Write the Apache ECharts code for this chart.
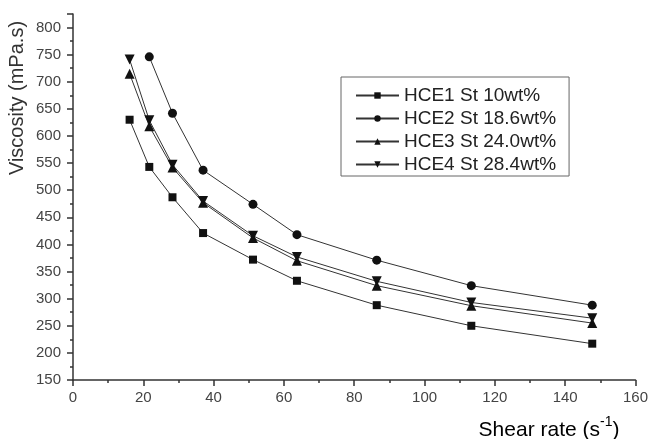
<!DOCTYPE html>
<html>
<head>
<meta charset="utf-8">
<script src="https://cdn.jsdelivr.net/npm/echarts@6/dist/echarts.min.js"></script>
<style>
  html, body { margin: 0; padding: 0; background: #fff; }
  #chart { width: 651px; height: 439px; }
</style>
</head>
<body>
<div id="chart"></div>
<script>
// shear rate, s^-1
const shearRate = [16.1, 21.7, 28.3, 37.0, 51.2, 63.7, 86.4, 113.3, 147.7]
const hce2Rate = [21.7, 28.3, 37.0, 51.2, 63.7, 86.4, 113.3, 147.7]

// viscosity, mPa.s
const hce1 = [630, 543, 487, 421, 372, 333, 288, 250, 217]
const hce2 = [746, 642, 537, 474, 418, 371, 324, 288]
const hce3 = [715, 618, 542, 477, 412, 370, 324, 287, 255]
const hce4 = [741, 629, 547, 480, 416, 377, 332, 293, 264]

const names = ['HCE1 St 10wt%', 'HCE2 St 18.6wt%', 'HCE3 St 24.0wt%', 'HCE4 St 28.4wt%']

const pair = (xs, ys) => ys.map((y, i) => [xs[i], y])

const font = 'Liberation Sans'

function mkSeries(name, data, symbol, size) {
  return {
    name: name,
    type: 'line',
    data: data,
    symbol: symbol,
    symbolSize: size,
    lineStyle: { color: '#333', width: 1 },
    itemStyle: { color: '#111' },
    emphasis: { disabled: true }
  }
}

const chart = echarts.init(document.getElementById('chart'))
chart.setOption({
  animation: false,
  grid: { left: 73, right: 13, top: 14, bottom: 59 },
  legend: {
    orient: 'vertical',
    left: 341,
    top: 77,
    padding: [9, 13, 2, 14],
    itemGap: 4,
    itemWidth: 43,
    itemHeight: 8,
    borderColor: '#666',
    borderWidth: 1,
    textStyle: { fontFamily: font, fontSize: 19, color: '#222' },
    data: names
  },
  xAxis: {
    type: 'value',
    min: 0,
    max: 160,
    interval: 20,
    axisLine: { lineStyle: { color: '#333', width: 1.5 } },
    axisTick: { length: 6, lineStyle: { color: '#333', width: 1.5 } },
    minorTick: { show: true, splitNumber: 2, length: 3, lineStyle: { color: '#333', width: 1.5 } },
    axisLabel: { fontFamily: font, fontSize: 15, color: '#444', margin: 10 },
    splitLine: { show: false }
  },
  yAxis: {
    type: 'value',
    min: 150,
    max: 825,
    interval: 50,
    axisLine: { show: true, lineStyle: { color: '#333', width: 1.5 } },
    axisTick: { show: true, length: 6, lineStyle: { color: '#333', width: 1.5 } },
    minorTick: { show: true, splitNumber: 2, length: 3, lineStyle: { color: '#333', width: 1.5 } },
    axisLabel: { fontFamily: font, fontSize: 15, color: '#444', margin: 12, showMaxLabel: false },
    splitLine: { show: false }
  },
  graphic: [
    {
      type: 'text',
      x: 17,
      y: 98,
      rotation: Math.PI / 2,
      style: {
        text: 'Viscosity (mPa.s)',
        font: '20px "Liberation Sans"',
        fill: '#333',
        align: 'center',
        verticalAlign: 'middle'
      }
    },
    {
      type: 'text',
      x: 549,
      y: 428,
      style: {
        text: '{a|Shear rate (s}{b|-1}{a|)}',
        align: 'center',
        verticalAlign: 'middle',
        rich: {
          a: { fontFamily: font, fontSize: 21, color: '#333', lineHeight: 26, verticalAlign: 'bottom' },
          b: { fontFamily: font, fontSize: 14, color: '#333', lineHeight: 26, verticalAlign: 'top' }
        }
      }
    }
  ],
  series: [
    mkSeries(names[0], pair(shearRate, hce1), 'rect', 8),
    mkSeries(names[1], pair(hce2Rate, hce2), 'circle', 9),
    mkSeries(names[2], pair(shearRate, hce3), 'triangle', 10),
    mkSeries(names[3], pair(shearRate, hce4), 'path://M0,0 L10,0 L5,9 Z', 10)
  ]
})
</script>
</body>
</html>
